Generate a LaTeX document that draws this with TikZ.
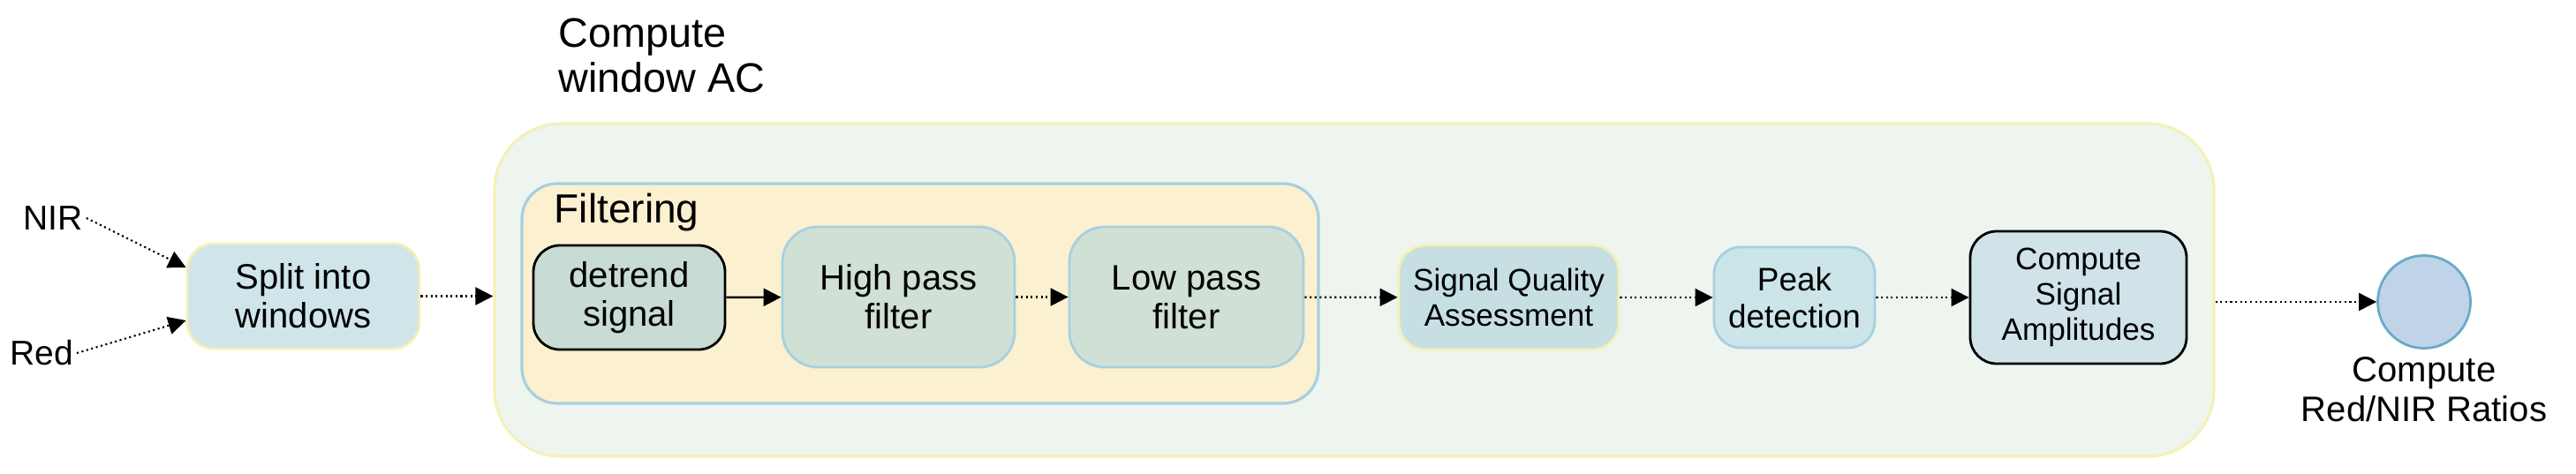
\documentclass[tikz,border=0pt]{standalone}
\usepackage{fontspec}
\setmainfont{Liberation Sans}
\usetikzlibrary{arrows.meta,positioning}

\definecolor{acfill}{HTML}{EDF5EE}
\definecolor{acline}{HTML}{F5F0B8}
\definecolor{filtfill}{HTML}{FBF0CF}
\definecolor{lineblue}{HTML}{A8CFE0}
\definecolor{detrendfill}{HTML}{C8DCD4}
\definecolor{passfill}{HTML}{D1E0D5}
\definecolor{splitfill}{HTML}{CFE5EA}
\definecolor{sqafill}{HTML}{C5DFE3}
\definecolor{peakfill}{HTML}{CCE5E8}
\definecolor{ampfill}{HTML}{D0E3E9}
\definecolor{ratiofill}{HTML}{C0D4E9}
\definecolor{ratioline}{HTML}{6AABC7}

\begin{document}
\begin{tikzpicture}
    % Definizione stili
    \tikzset{block/.style={draw=lineblue, line width=0.8pt, rounded corners=0.3cm, align=center, inner sep=0pt, font=\fontsize{11.4pt}{12.5pt}\selectfont}}
    \tikzstyle{group}=[rounded corners=0.75cm, line width=0.9pt, inner sep=0pt]
    \tikzstyle{flow}=[-{Triangle[length=0.2cm,width=0.2cm]}, line width=0.6pt, densely dotted]
    \tikzstyle{title}=[anchor=north west, inner sep=0pt, align=left, font=\fontsize{13.3pt}{14.5pt}\selectfont]

    \useasboundingbox (0,0) rectangle (29.17,-5.36);

    % Contenitori
    \node[group, fill=acfill, draw=acline, minimum width=19.47cm, minimum height=3.77cm] (acbox) at (15.335,-3.285) {};
    \node[title] (actitle) at (6.32,-0.20) {Compute\\window AC};
    \node[group, rounded corners=0.4cm, fill=filtfill, draw=lineblue, minimum width=9.02cm, minimum height=2.49cm] (filtbox) at (10.42,-3.325) {};
    \node[title, font=\fontsize{13.1pt}{14pt}\selectfont] (filttitle) at (6.27,-2.18) {Filtering};

    % Ingressi
    \node[inner sep=1pt, font=\fontsize{11.1pt}{12pt}\selectfont] (nir) at (0.60,-2.47) {NIR};
    \node[inner sep=1pt, font=\fontsize{11.1pt}{12pt}\selectfont] (red) at (0.47,-4.00) {Red};
    \node[block, draw=acline, fill=splitfill, minimum width=2.63cm, minimum height=1.19cm] (split) at (3.435,-3.355) {Split into\\windows};

    % Blocchi interni
    \node[block, draw=black, fill=detrendfill, minimum width=2.17cm, minimum height=1.18cm] (detrend) at (7.125,-3.37) {detrend\\signal};
    \node[block, rounded corners=0.4cm, fill=passfill, minimum width=2.63cm, minimum height=1.59cm] (high) at (10.175,-3.365) {High pass\\filter};
    \node[block, rounded corners=0.4cm, fill=passfill, minimum width=2.65cm, minimum height=1.59cm] (low) at (13.435,-3.365) {Low pass\\filter};
    \node[block, draw=acline, fill=sqafill, minimum width=2.49cm, minimum height=1.18cm, font=\fontsize{10pt}{11.4pt}\selectfont] (sqa) at (17.085,-3.37) {Signal Quality\\Assessment};
    \node[block, fill=peakfill, minimum width=1.82cm, minimum height=1.14cm, font=\fontsize{10.5pt}{12pt}\selectfont] (peak) at (20.32,-3.37) {Peak\\detection};
    \node[block, draw=black, fill=ampfill, minimum width=2.45cm, minimum height=1.50cm, font=\fontsize{10pt}{11.4pt}\selectfont] (amp) at (23.535,-3.37) {Compute\\Signal\\Amplitudes};

    % Uscita
    \node[circle, fill=ratiofill, draw=ratioline, line width=0.8pt, minimum size=1.05cm, inner sep=0pt] (ratio) at (27.45,-3.42) {};
    \node[below=0.08cm of ratio, inner sep=0pt, align=center, font=\fontsize{11.4pt}{12.8pt}\selectfont] (ratiolabel) {Compute\\Red/NIR Ratios};

    % Collegamenti
    \draw[flow] (nir.east) -- ([yshift=0.325cm]split.west);
    \draw[flow] (red.east) -- ([yshift=-0.275cm]split.west);
    \draw[flow] (split.east) -- (split.east -| acbox.west);
    \draw[-{Triangle[length=0.2cm,width=0.2cm]}, line width=0.7pt] (detrend) -- (high);
    \draw[flow] (high) -- (low);
    \draw[flow] (low) -- (sqa);
    \draw[flow] (sqa) -- (peak);
    \draw[flow] (peak) -- (amp);
    \draw[flow] (acbox.east |- ratio) -- (ratio);
\end{tikzpicture}
\end{document}
